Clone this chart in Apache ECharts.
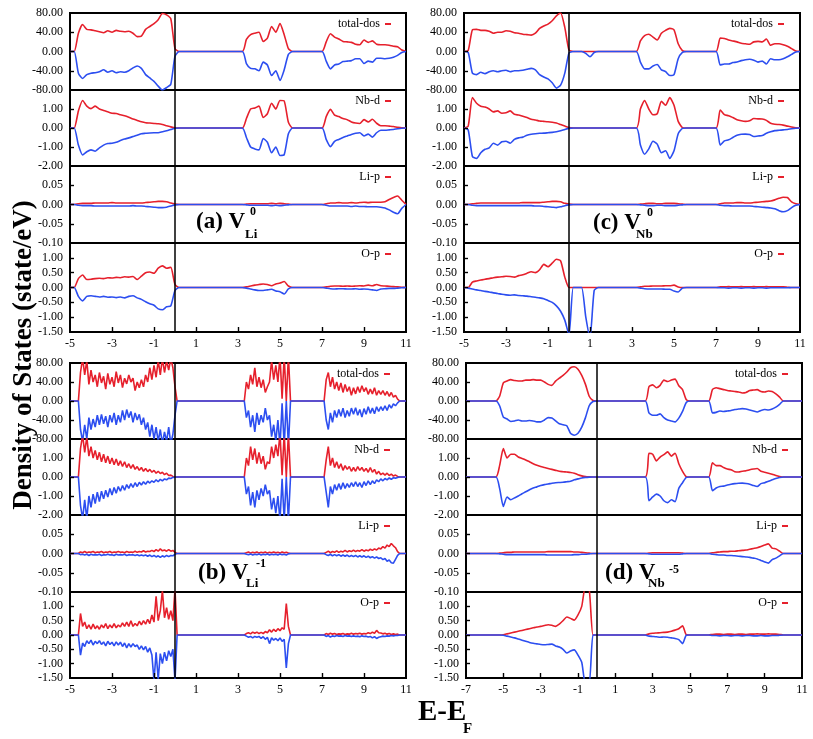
<!DOCTYPE html>
<html><head><meta charset="utf-8">
<script src="https://cdn.jsdelivr.net/npm/echarts@6/dist/echarts.min.js"></script>
<style>html,body{margin:0;padding:0;background:#fff}#c{width:813px;height:739px}</style>
</head><body><div id="c"></div>
<script>
// ---------------- DATA ----------------
// Each series = [valence band, conduction band, upper band] values on a uniform energy grid
// starting at the panel's band start energies; zero outside.
const orbitals = ['total-dos', 'Nb-d', 'Li-p', 'O-p'];
const yMin = [-80, -2, -0.1, -1.5];
const yMax = [80, 2, 0.1, 1.5];
const yInterval = [40, 1, 0.05, 0.5];

// (a) V_Li^0 : grid step 0.2 eV, bands start at -4.6, 3.4, 7.2
const a_bands = [-4.6, 3.4, 7.2];
const a_tot_up = [[38,56,46,45,43,41,39,43,40,44,42,41,42,38,31,32,46,52,58,66,79,76,68,6],[25,35,38,40,21,28,52,40,58,35,6],[20,37,30,26,21,20,19,15,14,24,19,22,15,14,14,13,11,10,3]];
const a_tot_dn = [[-45,-56,-48,-45,-44,-42,-38,-43,-40,-44,-42,-43,-40,-34,-30,-35,-48,-55,-62,-72,-80,-75,-68,-10],[-25,-35,-36,-40,-22,-28,-50,-40,-60,-38,-6],[-20,-36,-28,-26,-21,-20,-19,-15,-15,-25,-20,-22,-14,-14,-15,-14,-12,-8,-2]];
const a_nbd_up = [[0.9,1.45,1.15,1.02,1.15,1.0,0.92,0.85,0.78,0.76,0.7,0.64,0.56,0.47,0.4,0.33,0.28,0.26,0.24,0.22,0.18,0.12,0.06,0.01],[0.5,1.0,1.05,1.15,0.55,0.75,1.3,1.0,1.45,1.42,0.3],[0.6,0.98,0.68,0.6,0.5,0.44,0.32,0.26,0.24,0.44,0.32,0.46,0.25,0.12,0.12,0.1,0.08,0.04,0.01]];
const a_nbd_dn = [[-0.9,-1.42,-1.25,-1.15,-1.22,-1.05,-0.9,-0.82,-0.8,-0.75,-0.66,-0.58,-0.52,-0.45,-0.38,-0.3,-0.28,-0.26,-0.25,-0.25,-0.2,-0.15,-0.08,-0.01],[-0.5,-1.0,-1.1,-1.15,-0.55,-0.75,-1.3,-1.0,-1.45,-1.4,-0.3],[-0.6,-0.98,-0.7,-0.6,-0.5,-0.42,-0.34,-0.28,-0.25,-0.42,-0.32,-0.48,-0.25,-0.12,-0.12,-0.1,-0.08,-0.04,-0.01]];
const a_lip_up = [[0.002,0.003,0.003,0.003,0.004,0.004,0.004,0.004,0.005,0.004,0.004,0.004,0.004,0.004,0.004,0.004,0.005,0.006,0.007,0.008,0.008,0.007,0.004,0.001],[0.001,0.002,0.002,0.002,0.002,0.002,0.003,0.002,0.003,0.002,0.001],[0.002,0.004,0.004,0.005,0.004,0.004,0.005,0.004,0.005,0.006,0.005,0.006,0.006,0.006,0.007,0.013,0.018,0.022,0.011]];
const a_lip_dn = [[-0.002,-0.003,-0.003,-0.003,-0.004,-0.004,-0.004,-0.004,-0.004,-0.004,-0.004,-0.004,-0.004,-0.003,-0.004,-0.004,-0.005,-0.006,-0.007,-0.008,-0.008,-0.007,-0.004,-0.001],[-0.001,-0.002,-0.002,-0.002,-0.002,-0.002,-0.003,-0.002,-0.003,-0.002,-0.001],[-0.002,-0.004,-0.004,-0.004,-0.004,-0.004,-0.005,-0.004,-0.005,-0.005,-0.006,-0.006,-0.006,-0.007,-0.009,-0.014,-0.02,-0.024,-0.01]];
const a_op_up = [[0.3,0.42,0.27,0.28,0.3,0.31,0.3,0.33,0.32,0.34,0.33,0.36,0.35,0.37,0.27,0.38,0.5,0.52,0.48,0.65,0.73,0.65,0.68,0.1],[0.02,0.05,0.08,0.1,0.12,0.1,0.06,0.12,0.15,0.2,0.05],[0.02,0.04,0.05,0.05,0.04,0.05,0.04,0.05,0.06,0.05,0.08,0.06,0.1,0.06,0.05,0.04,0.03,0.02,0.01]];
const a_op_dn = [[-0.3,-0.45,-0.3,-0.28,-0.3,-0.32,-0.3,-0.33,-0.32,-0.34,-0.32,-0.35,-0.3,-0.28,-0.35,-0.4,-0.48,-0.55,-0.6,-0.72,-0.75,-0.65,-0.62,-0.1],[-0.02,-0.05,-0.08,-0.1,-0.1,-0.08,-0.06,-0.12,-0.14,-0.22,-0.05],[-0.02,-0.04,-0.05,-0.04,-0.04,-0.05,-0.05,-0.04,-0.06,-0.05,-0.06,-0.08,-0.1,-0.05,-0.04,-0.03,-0.03,-0.02,-0.01]];

// (c) V_Nb^0 : step 0.2 eV, bands start at -4.8, 3.4, 7.2
const c_bands = [-4.8, 3.4, 7.2];
const c_tot_up = [[2,45,46,44,44,42,38,40,40,43,42,39,38,36,35,34,38,48,53,57,64,74,80,50,3],[22,33,36,30,24,38,44,48,45,16,2],[28,27,24,22,20,17,16,15,20,21,20,26,13,16,16,14,11,6,1]];
const c_tot_dn = [[-2,-45,-48,-43,-46,-42,-40,-42,-40,-39,-42,-40,-40,-39,-37,-35,-38,-48,-53,-57,-65,-76,-70,-45,-3,0,0,0,-4,-11,-2],[-22,-36,-36,-30,-27,-38,-42,-50,-48,-15,-2],[-28,-26,-26,-23,-22,-19,-17,-16,-18,-22,-20,-26,-15,-17,-17,-15,-11,-6,-1]];
const c_nbd_up = [[0.1,1.6,1.3,1.15,1.1,1.0,0.85,0.9,0.78,0.8,0.9,0.72,0.68,0.62,0.55,0.46,0.42,0.37,0.35,0.33,0.3,0.26,0.18,0.1,0.02],[1.0,1.45,1.0,0.7,0.75,1.4,1.2,1.6,1.2,0.35,0.02],[0.95,0.7,0.65,0.55,0.44,0.38,0.35,0.38,0.5,0.48,0.47,0.4,0.25,0.2,0.18,0.15,0.1,0.05,0.01]];
const c_nbd_dn = [[-0.1,-1.5,-1.6,-1.3,-1.12,-1.05,-0.8,-0.9,-0.72,-0.7,-0.8,-0.6,-0.52,-0.48,-0.38,-0.33,-0.3,-0.28,-0.27,-0.25,-0.23,-0.2,-0.15,-0.08,-0.02],[-0.9,-1.38,-1.1,-0.7,-0.85,-1.3,-1.2,-1.6,-1.2,-0.3,-0.02],[-0.9,-0.68,-0.62,-0.5,-0.38,-0.33,-0.32,-0.34,-0.45,-0.42,-0.4,-0.28,-0.2,-0.14,-0.12,-0.1,-0.08,-0.04,-0.01]];
const c_lip_up = [[0,0.002,0.003,0.004,0.004,0.004,0.004,0.004,0.004,0.004,0.004,0.004,0.004,0.005,0.005,0.005,0.005,0.005,0.006,0.007,0.008,0.008,0.007,0.003,0.001],[0.001,0.002,0.003,0.003,0.002,0.002,0.003,0.003,0.003,0.002,0.001],[0.002,0.004,0.004,0.004,0.005,0.005,0.004,0.004,0.005,0.006,0.007,0.008,0.009,0.012,0.016,0.019,0.018,0.007,0.002]];
const c_lip_dn = [[0,-0.002,-0.003,-0.003,-0.003,-0.003,-0.003,-0.003,-0.003,-0.003,-0.003,-0.003,-0.003,-0.003,-0.003,-0.003,-0.004,-0.004,-0.005,-0.006,-0.007,-0.008,-0.006,-0.003,-0.001],[-0.001,-0.002,-0.003,-0.003,-0.002,-0.002,-0.003,-0.003,-0.003,-0.002,-0.001],[-0.002,-0.003,-0.003,-0.004,-0.004,-0.004,-0.004,-0.004,-0.005,-0.006,-0.007,-0.008,-0.009,-0.011,-0.016,-0.019,-0.016,-0.008,-0.002]];
const c_op_up = [[0,0.18,0.22,0.25,0.28,0.3,0.33,0.35,0.36,0.38,0.37,0.35,0.4,0.43,0.48,0.53,0.5,0.6,0.78,0.7,0.82,0.95,0.9,0.35,0],[0.02,0.04,0.04,0.05,0.05,0.05,0.06,0.06,0.08,0.02,0],[0.02,0.02,0.03,0.02,0.02,0.03,0.02,0.02,0.03,0.02,0.02,0.03,0.02,0.02,0.02,0.02,0.01,0,0]];
const c_op_dn = [[-0.02,-0.05,-0.08,-0.1,-0.13,-0.15,-0.18,-0.2,-0.23,-0.25,-0.26,-0.25,-0.27,-0.28,-0.29,-0.31,-0.33,-0.35,-0.38,-0.44,-0.5,-0.62,-0.8,-1.1,-1.6,0,0,0,-1.0,-1.7,-0.1],[-0.02,-0.04,-0.05,-0.05,-0.05,-0.05,-0.06,-0.06,-0.12,-0.15,-0.02],[-0.01,-0.01,-0.02,-0.01,-0.01,-0.02,-0.01,-0.01,-0.02,-0.01,-0.01,-0.02,-0.01,-0.01,-0.01,-0.01,-0.01,0,0]];

// (b) V_Li^-1 : step 0.1 eV, bands start at -4.5, 3.4, 7.2
const b_bands = [-4.5, 3.4, 7.2];
const b_tot_up = [[60,90,55,85,35,65,40,55,30,60,38,52,25,58,35,50,30,62,38,55,28,48,36,55,40,48,22,40,28,45,30,55,40,70,45,75,50,85,55,90,60,85,65,90,70,30],[40,25,55,35,70,30,50,28,45,18,30,40,85,45,75,40,95,5,95,0,95],[45,60,30,50,25,40,22,38,18,35,20,30,12,28,15,30,18,32,20,28,14,25,15,28,12,22,14,22,12,20,10,18,8,12,4]];
const b_tot_dn = [[-60,-85,-50,-80,-35,-60,-38,-55,-30,-50,-28,-48,-32,-55,-30,-45,-25,-50,-30,-45,-20,-40,-18,-35,-22,-45,-25,-40,-28,-50,-35,-60,-45,-75,-50,-80,-55,-85,-60,-90,-65,-85,-55,-90,-70,-30],[-35,-20,-55,-30,-65,-25,-50,-30,-45,-15,-40,-30,-75,-50,-85,-40,-95,-5,-95,0,-95],[-40,-60,-25,-45,-20,-35,-18,-32,-15,-35,-20,-32,-15,-28,-14,-30,-18,-34,-16,-28,-12,-26,-15,-27,-12,-22,-12,-20,-10,-20,-8,-15,-6,-10,-4]];
const b_nbd_up = [[1.5,2.2,1.3,2.1,1.1,1.6,1.0,1.4,0.9,1.3,0.8,1.2,0.75,1.1,0.7,1.0,0.65,0.95,0.6,0.85,0.55,0.8,0.5,0.7,0.45,0.65,0.4,0.55,0.35,0.5,0.3,0.45,0.28,0.4,0.25,0.35,0.2,0.3,0.18,0.25,0.12,0.2,0.08,0.1,0.03,0.01],[1.0,0.6,1.6,0.9,1.5,0.7,1.3,0.7,1.1,0.4,0.8,0.7,1.6,1.0,1.7,1.1,2.3,0.1,2.3,0,2.3],[0.9,1.6,0.6,1.0,0.5,0.8,0.45,0.7,0.35,0.6,0.4,0.55,0.3,0.5,0.3,0.55,0.35,0.5,0.3,0.45,0.25,0.5,0.25,0.4,0.15,0.3,0.12,0.2,0.1,0.2,0.08,0.15,0.05,0.1,0.03]];
const b_nbd_dn = [[-1.5,-2.2,-1.2,-2.2,-1.0,-1.6,-0.9,-1.4,-0.8,-1.3,-0.75,-1.15,-0.7,-1.05,-0.6,-0.95,-0.55,-0.85,-0.5,-0.75,-0.45,-0.7,-0.4,-0.6,-0.35,-0.55,-0.3,-0.5,-0.28,-0.42,-0.25,-0.38,-0.22,-0.32,-0.2,-0.28,-0.15,-0.25,-0.12,-0.2,-0.1,-0.15,-0.06,-0.08,-0.02,-0.01],[-0.9,-0.5,-1.5,-0.8,-1.6,-0.7,-1.2,-0.6,-1.0,-0.4,-0.9,-0.7,-1.7,-1.1,-1.9,-1.0,-2.3,-0.1,-2.3,0,-2.3],[-0.8,-1.6,-0.5,-0.9,-0.4,-0.7,-0.35,-0.65,-0.3,-0.6,-0.35,-0.55,-0.3,-0.5,-0.25,-0.5,-0.3,-0.55,-0.25,-0.45,-0.2,-0.4,-0.2,-0.35,-0.15,-0.25,-0.1,-0.2,-0.08,-0.15,-0.05,-0.12,-0.04,-0.06,-0.02]];
const b_lip_up = [[0.004,0.002,0.005,0.002,0.004,0.003,0.005,0.002,0.004,0.003,0.005,0.002,0.004,0.003,0.005,0.002,0.004,0.003,0.005,0.003,0.004,0.002,0.005,0.003,0.004,0.003,0.006,0.003,0.005,0.004,0.007,0.004,0.006,0.005,0.008,0.005,0.01,0.006,0.012,0.007,0.009,0.006,0.01,0.006,0.008,0.003],[0.002,0.004,0.001,0.003,0.002,0.004,0.001,0.003,0.002,0.004,0.001,0.003,0.002,0.004,0.002,0.003,0.001,0.004,0.002,0.003,0.001],[0.003,0.006,0.002,0.005,0.003,0.007,0.003,0.006,0.004,0.008,0.004,0.007,0.005,0.009,0.005,0.008,0.006,0.01,0.006,0.009,0.007,0.011,0.008,0.012,0.009,0.014,0.012,0.018,0.014,0.022,0.018,0.026,0.02,0.015,0.005]];
const b_lip_dn = [[-0.003,-0.002,-0.004,-0.002,-0.005,-0.002,-0.004,-0.003,-0.004,-0.002,-0.005,-0.003,-0.004,-0.002,-0.004,-0.003,-0.005,-0.002,-0.004,-0.003,-0.004,-0.002,-0.005,-0.003,-0.004,-0.003,-0.005,-0.003,-0.006,-0.004,-0.006,-0.004,-0.007,-0.004,-0.008,-0.005,-0.009,-0.006,-0.01,-0.006,-0.009,-0.005,-0.008,-0.005,-0.006,-0.002],[-0.002,-0.003,-0.001,-0.004,-0.002,-0.003,-0.001,-0.004,-0.002,-0.003,-0.001,-0.004,-0.002,-0.003,-0.002,-0.004,-0.001,-0.003,-0.002,-0.004,-0.001],[-0.003,-0.005,-0.002,-0.006,-0.003,-0.006,-0.003,-0.007,-0.004,-0.007,-0.004,-0.008,-0.005,-0.008,-0.005,-0.009,-0.006,-0.009,-0.006,-0.01,-0.007,-0.011,-0.008,-0.012,-0.009,-0.013,-0.011,-0.016,-0.013,-0.02,-0.017,-0.024,-0.025,-0.015,-0.005]];
const b_op_up = [[0.75,0.3,0.45,0.22,0.35,0.2,0.38,0.22,0.32,0.2,0.35,0.25,0.4,0.22,0.35,0.25,0.4,0.25,0.35,0.28,0.42,0.3,0.45,0.3,0.5,0.3,0.4,0.32,0.48,0.35,0.5,0.38,0.55,0.4,0.7,0.45,1.35,0.5,0.85,1.55,0.6,0.95,0.55,0.85,0.5,1.6],[0.05,0.08,0.04,0.1,0.06,0.1,0.05,0.09,0.05,0.12,0.08,0.18,0.1,0.2,0.12,0.22,0.15,0.25,0.2,1.1,0.3],[0.05,0.02,0.06,0.03,0.05,0.02,0.04,0.03,0.05,0.02,0.04,0.03,0.06,0.03,0.05,0.04,0.06,0.03,0.05,0.04,0.08,0.05,0.1,0.06,0.16,0.08,0.07,0.04,0.06,0.03,0.05,0.02,0.04,0.02,0.03]];
const b_op_dn = [[-0.7,-0.28,-0.4,-0.2,-0.3,-0.18,-0.35,-0.22,-0.3,-0.2,-0.33,-0.24,-0.38,-0.22,-0.33,-0.25,-0.38,-0.24,-0.35,-0.25,-0.4,-0.28,-0.45,-0.3,-0.42,-0.3,-0.4,-0.35,-0.5,-0.38,-0.52,-0.4,-0.6,-0.45,-0.7,-1.6,-0.6,-1.55,-0.65,-1.0,-0.6,-0.9,-0.55,-0.75,-0.5,-1.6],[-0.04,-0.08,-0.05,-0.1,-0.05,-0.08,-0.05,-0.12,-0.06,-0.15,-0.08,-0.3,-0.1,-0.18,-0.12,-0.2,-0.1,-0.22,-0.15,-1.15,-0.3],[-0.05,-0.02,-0.07,-0.03,-0.05,-0.02,-0.04,-0.03,-0.05,-0.02,-0.04,-0.03,-0.05,-0.03,-0.05,-0.04,-0.06,-0.03,-0.05,-0.04,-0.07,-0.05,-0.1,-0.06,-0.12,-0.08,-0.06,-0.04,-0.05,-0.03,-0.04,-0.02,-0.03,-0.02,-0.02]];

// (d) V_Nb^-5 : step 0.2 eV, bands start at -5.2, 2.8, 6.2
const d_bands = [-5.2, 2.8, 6.2];
const d_tot_up = [[10,38,42,45,43,42,42,44,44,45,44,44,40,35,33,42,48,54,61,70,72,67,54,35,10,1],[30,34,28,33,44,41,44,46,32,24,3],[24,28,26,24,22,21,20,19,17,18,22,23,24,20,19,21,20,15,8]];
const d_tot_dn = [[-10,-34,-38,-43,-42,-40,-42,-42,-41,-42,-44,-44,-40,-35,-36,-42,-48,-50,-52,-68,-72,-68,-55,-35,-10,-1],[-25,-30,-30,-27,-35,-40,-42,-44,-36,-22,-3],[-25,-24,-21,-22,-21,-20,-18,-17,-16,-17,-19,-21,-23,-20,-18,-19,-17,-13,-7]];
const d_nbd_up = [[0.6,1.5,1.0,1.2,1.2,1.05,0.98,0.9,0.8,0.7,0.62,0.55,0.5,0.45,0.4,0.35,0.3,0.28,0.26,0.24,0.2,0.12,0.06,0.02,0.005,0],[1.25,1.2,0.85,1.05,1.18,1.32,1.1,1.25,0.7,0.3,0.02],[0.75,0.6,0.6,0.5,0.42,0.38,0.28,0.26,0.3,0.33,0.38,0.42,0.45,0.3,0.25,0.2,0.15,0.08,0.03]];
const d_nbd_dn = [[-0.6,-1.55,-1.05,-1.2,-1.1,-1.0,-0.88,-0.78,-0.67,-0.58,-0.52,-0.45,-0.4,-0.37,-0.33,-0.3,-0.29,-0.28,-0.25,-0.22,-0.15,-0.1,-0.05,-0.02,-0.005,0],[-1.25,-1.05,-0.9,-1.0,-1.25,-1.35,-1.2,-1.3,-0.6,-0.3,-0.02],[-0.72,-0.58,-0.5,-0.48,-0.42,-0.38,-0.35,-0.33,-0.32,-0.34,-0.38,-0.45,-0.5,-0.35,-0.3,-0.22,-0.15,-0.08,-0.03]];
const d_lip_up = [[0.001,0.002,0.003,0.003,0.004,0.004,0.004,0.004,0.004,0.004,0.004,0.004,0.004,0.005,0.005,0.005,0.005,0.005,0.005,0.005,0.004,0.004,0.003,0.002,0.001,0],[0.001,0.002,0.002,0.002,0.002,0.002,0.002,0.002,0.002,0.001,0],[0.002,0.003,0.004,0.005,0.005,0.006,0.006,0.007,0.008,0.009,0.011,0.013,0.015,0.018,0.022,0.025,0.014,0.012,0.006]];
const d_lip_dn = [[-0.001,-0.002,-0.003,-0.003,-0.003,-0.003,-0.003,-0.003,-0.003,-0.003,-0.003,-0.003,-0.003,-0.004,-0.004,-0.004,-0.004,-0.004,-0.004,-0.004,-0.003,-0.003,-0.002,-0.002,-0.001,0],[-0.001,-0.002,-0.002,-0.002,-0.002,-0.002,-0.002,-0.002,-0.002,-0.001,0],[-0.002,-0.003,-0.004,-0.004,-0.005,-0.005,-0.006,-0.007,-0.008,-0.009,-0.01,-0.012,-0.014,-0.018,-0.022,-0.025,-0.016,-0.012,-0.006]];
const d_op_up = [[0,0.01,0.04,0.07,0.1,0.13,0.16,0.19,0.22,0.25,0.28,0.3,0.33,0.36,0.34,0.3,0.38,0.5,0.63,0.58,0.52,0.7,1.0,1.7,1.6,0],[0.04,0.06,0.07,0.08,0.09,0.1,0.13,0.17,0.22,0.32,0.01],[0.02,0.03,0.03,0.02,0.03,0.03,0.02,0.03,0.03,0.02,0.03,0.03,0.04,0.03,0.03,0.04,0.03,0.03,0.02]];
const d_op_dn = [[0,-0.01,-0.04,-0.07,-0.1,-0.14,-0.18,-0.22,-0.26,-0.29,-0.31,-0.33,-0.34,-0.33,-0.32,-0.38,-0.42,-0.5,-0.63,-0.56,-0.52,-0.7,-0.95,-1.7,-1.7,0],[-0.04,-0.05,-0.06,-0.08,-0.07,-0.08,-0.1,-0.12,-0.16,-0.3,-0.01],[-0.02,-0.02,-0.03,-0.02,-0.02,-0.03,-0.02,-0.02,-0.03,-0.02,-0.02,-0.03,-0.03,-0.02,-0.03,-0.03,-0.02,-0.02,-0.01]];

// ---------------- LAYOUT / STYLE ----------------
const RED = '#e6202c', BLUE = '#2c4ef0';
const SERIF = '"Liberation Serif","DejaVu Serif",serif';
const panels = [
  {left:70, width:336, tops:[13,90,166,243], heights:[77,76,77,89], xMin:-5, xMax:11, step:0.2, bands:a_bands, smooth:0.2, legendRight:422,
   up:[a_tot_up,a_nbd_up,a_lip_up,a_op_up], dn:[a_tot_dn,a_nbd_dn,a_lip_dn,a_op_dn]},
  {left:464, width:336, tops:[13,90,166,243], heights:[77,76,77,89], xMin:-5, xMax:11, step:0.2, bands:c_bands, smooth:0.2, legendRight:29,
   up:[c_tot_up,c_nbd_up,c_lip_up,c_op_up], dn:[c_tot_dn,c_nbd_dn,c_lip_dn,c_op_dn]},
  {left:70, width:336, tops:[363,439,515,592], heights:[76,76,77,86], xMin:-5, xMax:11, step:0.1, bands:b_bands, smooth:false, legendRight:423,
   up:[b_tot_up,b_nbd_up,b_lip_up,b_op_up], dn:[b_tot_dn,b_nbd_dn,b_lip_dn,b_op_dn]},
  {left:466, width:336, tops:[363,439,515,592], heights:[76,76,77,86], xMin:-7, xMax:11, step:0.2, bands:d_bands, smooth:0.2, legendRight:25,
   up:[d_tot_up,d_nbd_up,d_lip_up,d_op_up], dn:[d_tot_dn,d_nbd_dn,d_lip_dn,d_op_dn]}
];
const panelLabels = [
  {main:'(a) V', sub:'Li', sup:'0', x:196, y:222, subX:245, subY:235, supX:250, supY:212},
  {main:'(c) V', sub:'Nb', sup:'0', x:593, y:223, subX:636, subY:235, supX:647, supY:213},
  {main:'(b) V', sub:'Li', sup:'-1', x:198, y:573, subX:246, subY:584, supX:256, supY:564},
  {main:'(d) V', sub:'Nb', sup:'-5', x:605, y:573, subX:648, subY:584, supX:669, supY:570}
];
const X_TICK_PX = 5, Y_TICK_PX = 4;

const r3 = v => Math.round(v * 1000) / 1000;
function buildData(bands, segs, step, xMin, xMax) {
  const pts = [[xMin, 0]];
  segs.forEach((vals, i) => {
    const e0 = bands[i];
    pts.push([r3(e0 - step), 0]);
    vals.forEach((v, j) => pts.push([r3(e0 + j * step), v]));
    pts.push([r3(e0 + vals.length * step), 0]);
  });
  pts.push([xMax, 0]);
  return pts;
}
const fmt = v => (Math.abs(v) < 1e-9 ? '0.00' : v.toFixed(2));

// inward tick marks at the axis tick values (axis decoration)
function tickSegments(p, s) {
  const segs = [];
  const dx = (p.xMax - p.xMin) * Y_TICK_PX / p.width;
  for (let k = 1; yMin[s] + k * yInterval[s] < yMax[s] - 1e-9; k++) {
    const v = r3(yMin[s] + k * yInterval[s]);
    segs.push([{coord:[p.xMin, v]}, {coord:[p.xMin + dx, v]}]);
  }
  if (s === 3) {
    const dyx = (yMax[s] - yMin[s]) * X_TICK_PX / p.heights[s];
    for (let t = p.xMin + 2; t < p.xMax; t += 2) {
      segs.push([{coord:[t, yMin[s]]}, {coord:[t, yMin[s] + dyx]}]);
    }
  }
  return segs;
}

const grid = [], xAxis = [], yAxis = [], series = [], legend = [];
panels.forEach(p => {
  for (let s = 0; s < 4; s++) {
    const idx = grid.length;
    const last = s === 3;
    grid.push({left:p.left, top:p.tops[s], width:p.width, height:p.heights[s], containLabel:false, outerBoundsMode:'none',
      show:true, borderColor:'#000', borderWidth:2, backgroundColor:'rgba(0,0,0,0)'});
    xAxis.push({type:'value', gridIndex:idx, position:'bottom', min:p.xMin, max:p.xMax, interval:2,
      axisLine:{show:false, onZero:false}, splitLine:{show:false}, axisTick:{show:false},
      axisLabel:{show:last, margin:6, color:'#000', fontFamily:SERIF, fontSize:12, formatter: v => String(v)}});
    yAxis.push({type:'value', gridIndex:idx, position:'left', min:yMin[s], max:yMax[s], interval:yInterval[s],
      axisLine:{show:false, onZero:false}, splitLine:{show:false}, axisTick:{show:false},
      axisLabel:{show:true, margin:7, color:'#000', fontFamily:SERIF, fontSize:12, formatter:fmt,
        showMinLabel:true, showMaxLabel: s === 0, hideOverlap:false}});
    series.push({type:'line', name:orbitals[s], xAxisIndex:idx, yAxisIndex:idx, data:buildData(p.bands, p.up[s], p.step, p.xMin, p.xMax),
      showSymbol:false, symbol:'none', smooth:p.smooth, clip:true, color:RED, lineStyle:{color:RED, width:1.6}, animation:false, silent:true,
      markLine:{silent:true, symbol:'none', label:{show:false}, lineStyle:{color:'#000', width:1.4, type:'solid'}, data:tickSegments(p, s), animation:false}});
    series.push({type:'line', name:orbitals[s] + ' (down)', xAxisIndex:idx, yAxisIndex:idx, data:buildData(p.bands, p.dn[s], p.step, p.xMin, p.xMax),
      showSymbol:false, symbol:'none', smooth:p.smooth, clip:true, color:BLUE, lineStyle:{color:BLUE, width:1.6}, animation:false, silent:true,
      markLine:{silent:true, symbol:'none', label:{show:false}, lineStyle:{color:'#000', width:1.5, type:'solid'}, data:[{xAxis:0}], animation:false}});
    legend.push({data:[{name:orbitals[s], icon:'rect'}], right:p.legendRight, top:p.tops[s] + 5, align:'right', orient:'horizontal',
      itemWidth:6, itemHeight:2, itemGap:0, padding:0, selectedMode:false,
      textStyle:{fontFamily:SERIF, fontSize:12, color:'#000'}});
  }
});

const graphic = [];
panelLabels.forEach(l => {
  graphic.push({type:'text', x:l.x, y:l.y, style:{text:l.main, font:'bold 23px ' + SERIF, fill:'#000', align:'left', verticalAlign:'middle', textAlign:'left', textVerticalAlign:'middle'}});
  graphic.push({type:'text', x:l.subX, y:l.subY, style:{text:l.sub, font:'bold 13px ' + SERIF, fill:'#000', align:'left', verticalAlign:'middle', textAlign:'left', textVerticalAlign:'middle'}});
  graphic.push({type:'text', x:l.supX, y:l.supY, style:{text:l.sup, font:'bold 12px ' + SERIF, fill:'#000', align:'left', verticalAlign:'middle', textAlign:'left', textVerticalAlign:'middle'}});
});
graphic.push({type:'text', x:24, y:355, rotation:Math.PI / 2, style:{text:'Density of States (state/eV)', font:'bold 27px ' + SERIF, fill:'#000', align:'center', verticalAlign:'middle', textAlign:'center', textVerticalAlign:'middle'}});
graphic.push({type:'text', x:418, y:713, style:{text:'E-E', font:'bold 29px ' + SERIF, fill:'#000', align:'left', verticalAlign:'middle', textAlign:'left', textVerticalAlign:'middle'}});
graphic.push({type:'text', x:463, y:729, style:{text:'F', font:'bold 15px ' + SERIF, fill:'#000', align:'left', verticalAlign:'middle', textAlign:'left', textVerticalAlign:'middle'}});

const chart = echarts.init(document.getElementById('c'), null, {renderer:'canvas'});
chart.setOption({backgroundColor:'#fff', animation:false, grid, xAxis, yAxis, series, legend, graphic});
</script></body></html>
